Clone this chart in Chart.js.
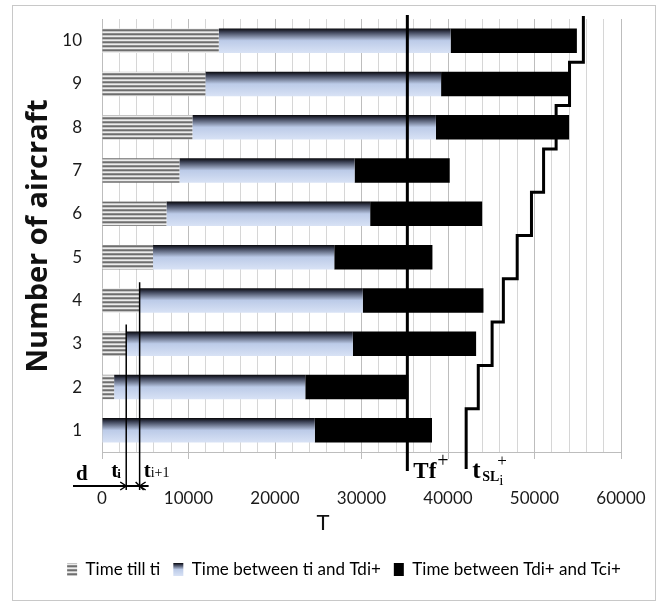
<!DOCTYPE html>
<html>
<head>
<meta charset="utf-8">
<script src="https://cdn.jsdelivr.net/npm/chart.js@4.4.0/dist/chart.umd.min.js"></script>
<style>
  html, body { margin: 0; padding: 0; background: #fff; }
  #wrap { width: 663px; height: 602px; }
</style>
</head>
<body>
<div id="wrap"><canvas id="chart" width="663" height="602"></canvas></div>
<script>
// data
const aircraft = ['1', '2', '3', '4', '5', '6', '7', '8', '9', '10'];
const timeTillTi = [0, 1400, 2800, 4350, 5900, 7450, 8950, 10450, 11950, 13500];
const timeTiToTdi = [24600, 22100, 26200, 25800, 20950, 23550, 20250, 28150, 27250, 26800];
const timeTdiToTci = [13550, 11900, 14250, 13950, 11350, 12950, 11000, 15400, 15000, 14600];
const tSL = [42100, 43500, 45100, 46400, 48000, 49650, 51050, 52500, 54050, 55650];
const tfPlus = 35300;
const tiMark = 2800;      // t_i   (aircraft 3)
const tiNextMark = 4350;  // t_i+1 (aircraft 4)
const xMin = 0, xMax = 60000, xMajor = 10000, xMinor = 2000;
const legendNames = ['Time till ti', 'Time between ti and Tdi+', 'Time between Tdi+ and Tci+'];

const barPct = 0.565;

// grey horizontal stripes for the first segment
function stripePattern() {
    const c = document.createElement('canvas');
    c.width = 4; c.height = 4;
    const g = c.getContext('2d');
    ['#ececec', '#8c8c8c', '#6e6e6e', '#c4c4c4'].forEach((col, i) => {
        g.fillStyle = col;
        g.fillRect(0, i, 4, 1);
    });
    return g.createPattern(c, 'repeat');
}
const stripes = stripePattern();

function blueGradient(ctx, top, bottom) {
    const g = ctx.createLinearGradient(0, top, 0, bottom);
    g.addColorStop(0, '#08080c');
    g.addColorStop(0.15, '#3c4256');
    g.addColorStop(0.5, '#bccbe8');
    g.addColorStop(1, '#d8e2f5');
    return g;
}

function blueFill(c) {
    const chart = c.chart;
    const ys = chart.scales.y;
    if (!ys || c.dataIndex == null) return '#c6d4ee';
    const cy = ys.getPixelForValue(c.dataIndex);
    const half = ys.height / aircraft.length * barPct / 2;
    return blueGradient(chart.ctx, cy - half, cy + half);
}

// keep the tick label overflow from shrinking the plot
function noOverflow(s) {
    s.paddingLeft = s.paddingRight = s.paddingTop = s.paddingBottom = 0;
}

const annotate = {
    id: 'annotate',
    beforeDraw(chart) {
        const ctx = chart.ctx;
        ctx.save();
        ctx.strokeStyle = '#c8c8c8';
        ctx.lineWidth = 1;
        ctx.strokeRect(12.5, 5.5, 643, 595);
        ctx.restore();
        // legend box for the gradient series
        const lg = chart.legend;
        if (lg && lg.legendHitBoxes[1]) {
            const hb = lg.legendHitBoxes[1];
            const top = hb.top + (hb.height - 13) / 2;
            lg.legendItems[1].fillStyle = blueGradient(ctx, top, top + 13);
        }
    },
    afterDatasetsDraw(chart) {
        const { ctx, chartArea: a, scales: { x, y } } = chart;
        const band = y.height / aircraft.length;
        const half = band * barPct / 2;
        ctx.save();
        ctx.strokeStyle = '#000';
        ctx.fillStyle = '#000';
        ctx.lineCap = 'butt';

        // staircase of t_SL
        ctx.lineWidth = 3;
        ctx.lineJoin = 'miter';
        ctx.beginPath();
        tSL.forEach((v, i) => {
            const px = x.getPixelForValue(v);
            const cy = y.getPixelForValue(i);
            const yb = i === 0 ? a.bottom + 17 : cy + band / 2;
            const yt = i === tSL.length - 1 ? a.top - 3 : cy - band / 2;
            if (i === 0) ctx.moveTo(px, yb); else ctx.lineTo(px, yb);
            ctx.lineTo(px, yt);
        });
        ctx.stroke();

        // Tf+ line
        const tfx = x.getPixelForValue(tfPlus);
        ctx.beginPath();
        ctx.moveTo(tfx, a.top - 4);
        ctx.lineTo(tfx, a.bottom + 19);
        ctx.stroke();

        // t_i and t_i+1 markers
        const arrowY = a.bottom + 34;
        const tix = x.getPixelForValue(tiMark);
        const tnx = x.getPixelForValue(tiNextMark);
        ctx.lineWidth = 1.5;
        ctx.beginPath();
        ctx.moveTo(tix, y.getPixelForValue(2) - half - 7);
        ctx.lineTo(tix, arrowY + 4);
        ctx.moveTo(tnx, y.getPixelForValue(3) - half - 6);
        ctx.lineTo(tnx, arrowY + 4);
        ctx.stroke();

        // d arrow
        const x0 = x.getPixelForValue(0);
        ctx.lineWidth = 2;
        ctx.beginPath();
        ctx.moveTo(x0 - 29, arrowY);
        ctx.lineTo(tnx + 9, arrowY);
        ctx.stroke();
        ctx.lineWidth = 1.5;
        ctx.beginPath();
        ctx.moveTo(tix - 6, arrowY - 4); ctx.lineTo(tix, arrowY); ctx.lineTo(tix - 6, arrowY + 4);
        ctx.moveTo(tnx + 6, arrowY - 4); ctx.lineTo(tnx, arrowY); ctx.lineTo(tnx + 6, arrowY + 4);
        ctx.moveTo(tnx - 4, arrowY - 4); ctx.lineTo(tnx + 4, arrowY + 4);
        ctx.stroke();

        // labels
        ctx.textAlign = 'left';
        ctx.textBaseline = 'alphabetic';
        const serifB = s => 'bold ' + s + 'px "Liberation Serif", "DejaVu Serif", serif';
        const serif = s => s + 'px "Liberation Serif", "DejaVu Serif", serif';
        ctx.font = serifB(21);
        ctx.fillText('d', x0 - 26, arrowY - 6);
        ctx.fillText('t', tix - 15, arrowY - 9);
        ctx.fillText('t', tnx + 4, arrowY - 9);
        ctx.font = serifB(13);
        ctx.fillText('i', tix - 9, arrowY - 8);
        ctx.font = serif(14);
        ctx.fillText('i+1', tnx + 11, arrowY - 9);

        ctx.font = serifB(23);
        ctx.fillText('Tf', tfx + 6, a.bottom + 26);
        ctx.font = serif(20);
        ctx.fillText('+', tfx + 30, a.bottom + 15);

        const sx = x.getPixelForValue(tSL[0]);
        ctx.font = serifB(25);
        ctx.fillText('t', sx + 6, a.bottom + 26);
        ctx.font = serifB(14);
        ctx.fillText('SL', sx + 16, a.bottom + 29);
        ctx.font = serif(15);
        ctx.fillText('i', sx + 33, a.bottom + 33);
        ctx.font = serif(17);
        ctx.fillText('+', sx + 31, a.bottom + 14);

        // axis titles
        ctx.font = '22px Lato, sans-serif';
        ctx.textAlign = 'center';
        ctx.textBaseline = 'middle';
        ctx.fillStyle = '#111';
        ctx.fillText('T', x.left + 221, a.bottom + 71);

        ctx.save();
        ctx.translate(39, 236);
        ctx.rotate(-Math.PI / 2);
        ctx.font = 'bold 29px "Open Sans", sans-serif';
        ctx.fillText('Number of aircraft', 0, 0);
        ctx.restore();

        ctx.restore();
    }
};

const ctx = document.getElementById('chart').getContext('2d');
const timeChart = new Chart(ctx, {
    type: 'bar',
    data: {
        labels: aircraft,
        datasets: [
            { label: legendNames[0], data: timeTillTi, backgroundColor: stripes },
            { label: legendNames[1], data: timeTiToTdi, backgroundColor: blueFill },
            { label: legendNames[2], data: timeTdiToTci, backgroundColor: '#000' }
        ]
    },
    options: {
        indexAxis: 'y',
        responsive: false,
        animation: false,
        events: [],
        categoryPercentage: 1,
        barPercentage: barPct,
        borderWidth: 0,
        layout: { padding: { left: 25, right: 0, top: 19, bottom: 14 } },
        scales: {
            x: {
                type: 'linear',
                stacked: true,
                min: xMin,
                max: xMax,
                afterFit: s => { s.height = 96; noOverflow(s); },
                grid: {
                    color: c => (c.tick && c.tick.value % xMajor === 0) ? '#bdbdbd' : '#d6d6d6',
                    tickColor: c => (c.tick && c.tick.value % xMajor === 0) ? '#bdbdbd' : 'rgba(0,0,0,0)',
                    tickLength: 7
                },
                border: { color: '#bdbdbd' },
                ticks: {
                    stepSize: xMinor,
                    autoSkip: false,
                    maxRotation: 0,
                    padding: 29,
                    color: '#1a1a1a',
                    font: { family: 'Lato', size: 17 },
                    callback: v => (v % xMajor === 0 ? v : '')
                }
            },
            y: {
                stacked: true,
                reverse: true,
                afterFit: s => { s.width = 77; noOverflow(s); },
                grid: { color: 'rgba(0,0,0,0)', drawTicks: false },
                border: { color: '#bdbdbd' },
                ticks: {
                    padding: 20,
                    color: '#1a1a1a',
                    font: { family: 'Lato', size: 17 }
                }
            },
            // empty right-hand margin box, so the legend can use the full width
            margin: {
                type: 'linear',
                axis: 'y',
                position: 'right',
                afterFit: s => { s.width = 42; noOverflow(s); },
                grid: { display: false },
                border: { display: false },
                ticks: { display: false }
            }
        },
        plugins: {
            tooltip: { enabled: false },
            legend: {
                position: 'bottom',
                labels: {
                    boxWidth: 10,
                    boxHeight: 13,
                    padding: 13,
                    color: '#1a1a1a',
                    font: { family: 'Lato', size: 17 },
                    generateLabels: () => legendNames.map((t, i) => ({
                        text: t,
                        fillStyle: [stripes, '#8c9bb8', '#000'][i],
                        strokeStyle: 'rgba(0,0,0,0)',
                        lineWidth: 0,
                        hidden: false,
                        datasetIndex: i
                    }))
                }
            }
        }
    },
    plugins: [annotate]
});
</script>
</body>
</html>
